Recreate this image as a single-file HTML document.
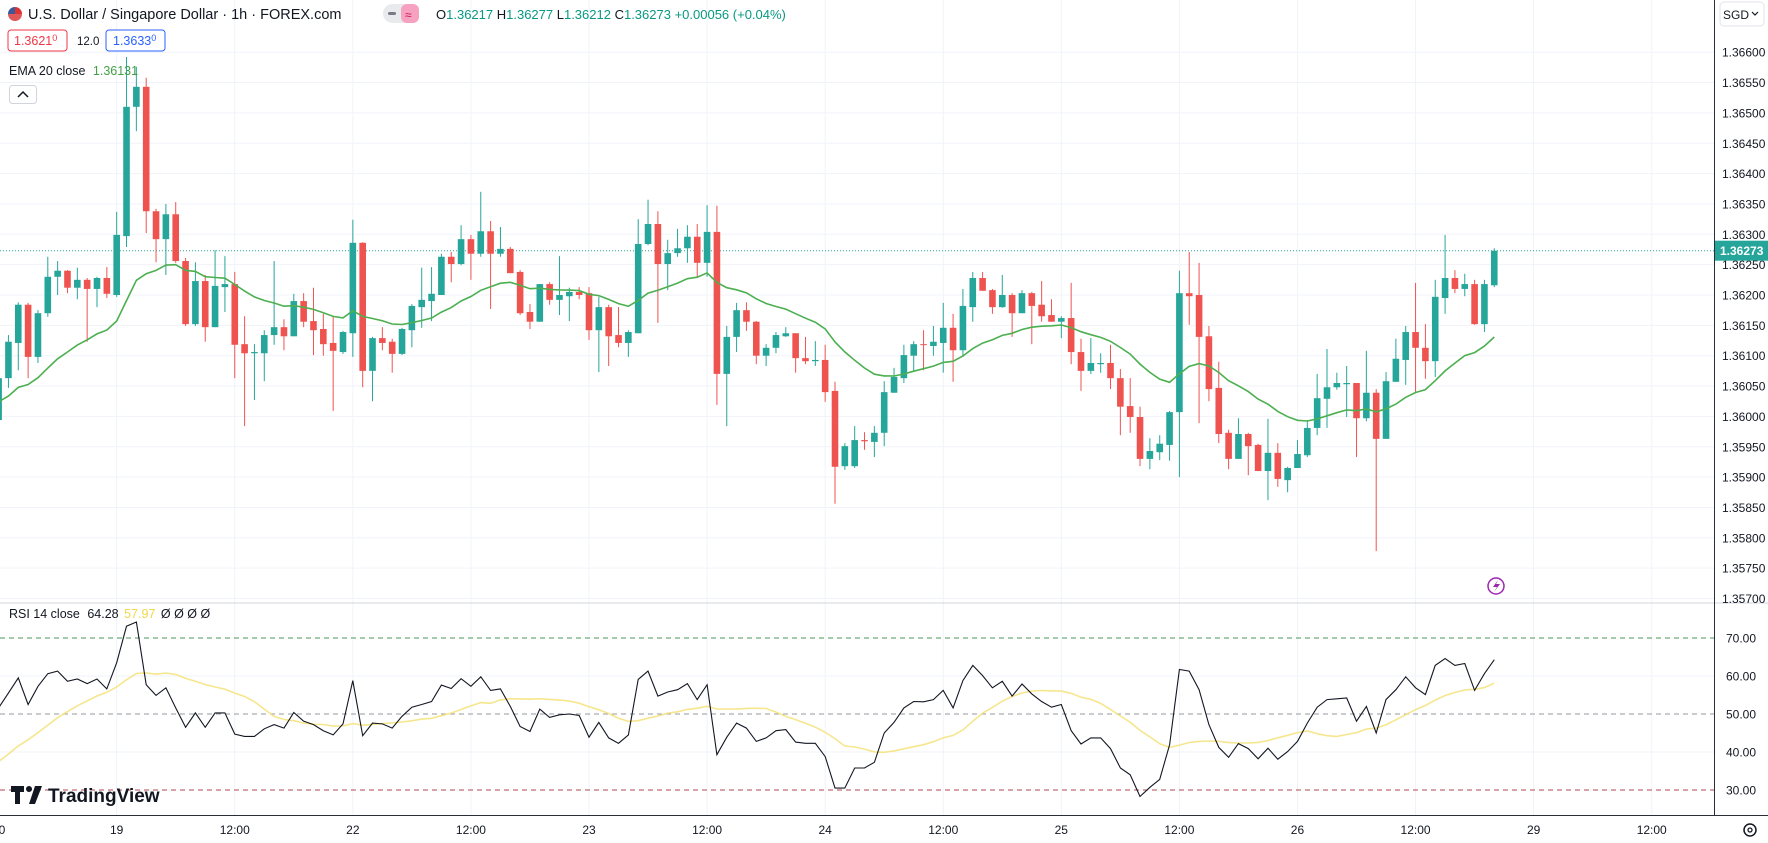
<!DOCTYPE html>
<html><head><meta charset="utf-8">
<style>
html,body{margin:0;padding:0;background:#fff;width:1768px;height:843px;overflow:hidden;font-family:"Liberation Sans",sans-serif;}
svg{display:block}
text{font-family:"Liberation Sans",sans-serif}
</style></head>
<body>
<svg id="chart" width="1768" height="843" viewBox="0 0 1768 843" xmlns="http://www.w3.org/2000/svg">
<defs>
<clipPath id="mainClip"><rect x="0" y="0" width="1714" height="602"/></clipPath>
<clipPath id="rsiClip"><rect x="0" y="604" width="1714" height="211"/></clipPath>
</defs>
<g id="grid"></g>
<g id="mainPane" clip-path="url(#mainClip)"></g>
<g id="rsiPane" clip-path="url(#rsiClip)"></g>
<line x1="0" y1="603" x2="1768" y2="603" stroke="#d1d4dc" stroke-width="1"/>
<line x1="1714.5" y1="0" x2="1714.5" y2="815" stroke="#2a2e39" stroke-width="1"/>
<line x1="0" y1="815.5" x2="1768" y2="815.5" stroke="#2a2e39" stroke-width="1"/>
<g id="priceAxis"></g>
<g id="rsiAxis"></g>
<g id="timeAxis"></g>

<g>
  <g>
    <circle cx="15" cy="14" r="7" fill="#e8eaf0"/>
    <path d="M8 14 A7 7 0 0 1 15 7 L15 14 Z" fill="#3c5a9a"/>
    <path d="M15 7 A7 7 0 0 1 22 14 L15 14 Z" fill="#d33"/>
    <path d="M8 14 A7 7 0 0 0 22 14 Z" fill="#d33" opacity="0.8"/>
  </g>
  <text x="28" y="19" font-size="14.5" fill="#131722">U.S. Dollar / Singapore Dollar · 1h · FOREX.com</text>
  <rect x="383" y="4" width="36" height="19" rx="9.5" fill="#e8eaed"/>
  <rect x="401" y="4" width="18" height="19" rx="6" fill="#f7a1c0"/>
  <rect x="388" y="12" width="8" height="3" rx="1.5" fill="#787b86"/>
  <text x="405" y="19" font-size="12" fill="#c2185b">≈</text>
  <text x="436" y="19" font-size="13" fill="#131722">O<tspan fill="#089981">1.36217</tspan> H<tspan fill="#089981">1.36277</tspan> L<tspan fill="#089981">1.36212</tspan> C<tspan fill="#089981">1.36273 +0.00056 (+0.04%)</tspan></text>
  <rect x="8" y="30" width="59" height="21" rx="3" fill="#fff" stroke="#f23645"/>
  <text x="14" y="45" font-size="12.5" fill="#f23645">1.3621<tspan font-size="9" dy="-4">0</tspan></text>
  <text x="77" y="45" font-size="11.5" fill="#131722">12.0</text>
  <rect x="106" y="30" width="59" height="21" rx="3" fill="#fff" stroke="#2962ff"/>
  <text x="113" y="45" font-size="12.5" fill="#2962ff">1.3633<tspan font-size="9" dy="-4">0</tspan></text>
  <text x="9" y="75" font-size="12.5" fill="#131722">EMA 20 close <tspan fill="#43a047" dx="4">1.36131</tspan></text>
  <rect x="9.5" y="85.5" width="27" height="18" rx="3" fill="#fff" stroke="#d1d4dc"/>
  <path d="M18 97 L23 92 L28 97" fill="none" stroke="#131722" stroke-width="1.5"/>
  <text x="9" y="618" font-size="12.5" fill="#131722">RSI 14 close <tspan dx="4">64.28</tspan> <tspan fill="#f0d84a" dx="2">57.97</tspan> <tspan fill="#131722" dx="2">Ø Ø Ø Ø</tspan></text>
  <g>
    <path d="M11 786 h13 v6 h-4 v12 h-5 v-12 h-4 z" fill="#131722"/>
    <circle cx="29" cy="789" r="3" fill="#131722"/>
    <path d="M35 786 h7 l-7 18 h-6 z" fill="#131722"/>
    <text x="48" y="802" font-size="19" font-weight="bold" fill="#131722">TradingView</text>
  </g>
  <g>
    <circle cx="1496" cy="586" r="8" fill="#fff" stroke="#9c27b0" stroke-width="1.5"/>
    <path d="M1498 580 L1493 587 L1497 587 L1494 592 L1500 584 L1496 584 Z" fill="#9c27b0"/>
  </g>
  <rect x="1720" y="2" width="44" height="24" rx="4" fill="#fff" stroke="#e0e3eb"/>
  <text x="1723" y="19" font-size="12" fill="#131722">SGD</text>
  <path d="M1752 12 l3 3 l3 -3" fill="none" stroke="#131722" stroke-width="1.2"/>
  <g>
    <circle cx="1750" cy="830" r="6" fill="none" stroke="#131722" stroke-width="1.5"/>
    <circle cx="1750" cy="830" r="2" fill="none" stroke="#131722" stroke-width="1.3"/>
  </g>
</g>
</svg>
<script>
const openP=[1.35994,1.36063,1.36121,1.36184,1.36098,1.36170,1.36230,1.36240,1.36212,1.36225,
1.36210,1.36228,1.36200,1.36297,1.36510,1.36543,1.36338,1.36292,1.36333,1.36256,
1.36152,1.36223,1.36147,1.36213,1.36218,1.36119,1.36104,1.36104,1.36134,1.36147,
1.36132,1.36190,1.36157,1.36144,1.36121,1.36106,1.36137,1.36286,1.36075,1.36129,
1.36123,1.36103,1.36142,1.36180,1.36190,1.36200,1.36263,1.36251,1.36292,1.36268,
1.36305,1.36268,1.36276,1.36238,1.36172,1.36156,1.36218,1.36192,1.36198,1.36205,
1.36203,1.36142,1.36180,1.36134,1.36121,1.36137,1.36284,1.36317,1.36251,1.36269,
1.36277,1.36296,1.36253,1.36304,1.36070,1.36131,1.36175,1.36156,1.36100,1.36113,
1.36132,1.36137,1.36096,1.36091,1.36093,1.36042,1.35918,1.35918,1.35961,1.35958,
1.35973,1.36039,1.36063,1.36100,1.36119,1.36116,1.36121,1.36146,1.36109,1.36180,
1.36228,1.36208,1.36180,1.36200,1.36170,1.36203,1.36184,1.36167,1.36156,1.36162,
1.36106,1.36075,1.36086,1.36088,1.36063,1.36017,1.35999,1.35930,1.35941,1.35953,
1.36007,1.36203,1.36200,1.36132,1.36047,1.35973,1.35930,1.35971,1.35953,1.35910,
1.35940,1.35895,1.35915,1.35936,1.35981,1.36029,1.36048,1.36053,1.36055,1.35997,
1.36039,1.35963,1.36057,1.36093,1.36139,1.36113,1.36091,1.36195,1.36228,1.36210,
1.36218,1.36152,1.36216];
const highP=[1.36068,1.36134,1.36188,1.36187,1.36175,1.36263,1.36256,1.36241,1.36245,1.36228,
1.36230,1.36246,1.36337,1.36592,1.36576,1.36558,1.36342,1.36350,1.36353,1.36261,
1.36254,1.36233,1.36274,1.36264,1.36238,1.36165,1.36119,1.36142,1.36256,1.36160,
1.36202,1.36203,1.36212,1.36169,1.36165,1.36141,1.36324,1.36287,1.36131,1.36147,
1.36128,1.36146,1.36185,1.36245,1.36246,1.36268,1.36271,1.36315,1.36299,1.36370,
1.36322,1.36312,1.36279,1.36241,1.36185,1.36218,1.36221,1.36264,1.36212,1.36213,
1.36213,1.36197,1.36184,1.36180,1.36142,1.36325,1.36357,1.36338,1.36291,1.36309,
1.36315,1.36317,1.36348,1.36347,1.36149,1.36187,1.36188,1.36157,1.36119,1.36139,
1.36147,1.36137,1.36131,1.36124,1.36118,1.36057,1.35956,1.35984,1.35974,1.35984,
1.36058,1.36080,1.36118,1.36124,1.36142,1.36149,1.36187,1.36169,1.36210,1.36238,
1.36238,1.36210,1.36233,1.36203,1.36208,1.36205,1.36223,1.36193,1.36165,1.36220,
1.36128,1.36129,1.36104,1.36118,1.36078,1.36063,1.36016,1.35964,1.35969,1.36009,
1.36240,1.36271,1.36253,1.36149,1.36090,1.35978,1.35997,1.35973,1.35955,1.35996,
1.35956,1.35917,1.35961,1.35994,1.36070,1.36111,1.36072,1.36083,1.36055,1.36108,
1.36045,1.36073,1.36128,1.36149,1.36220,1.36152,1.36225,1.36299,1.36241,1.36235,
1.36225,1.36225,1.36277];
const lowP=[1.35971,1.36047,1.36076,1.36063,1.36088,1.36164,1.36200,1.36203,1.36193,1.36123,
1.36180,1.36195,1.36197,1.36279,1.36470,1.36302,1.36254,1.36233,1.36253,1.36149,
1.36149,1.36123,1.36147,1.36172,1.36063,1.35984,1.36027,1.36058,1.36118,1.36109,
1.36132,1.36147,1.36101,1.36100,1.36009,1.36103,1.36098,1.36048,1.36025,1.36109,
1.36072,1.36101,1.36114,1.36146,1.36157,1.36200,1.36221,1.36249,1.36225,1.36263,
1.36177,1.36263,1.36236,1.36167,1.36144,1.36156,1.36184,1.36167,1.36157,1.36193,
1.36126,1.36073,1.36083,1.36114,1.36098,1.36137,1.36282,1.36154,1.36208,1.36263,
1.36253,1.36228,1.36230,1.36019,1.35984,1.36106,1.36141,1.36086,1.36083,1.36104,
1.36131,1.36072,1.36086,1.36083,1.36024,1.35856,1.35912,1.35915,1.35945,1.35933,
1.35951,1.36039,1.36055,1.36073,1.36076,1.36100,1.36072,1.36057,1.36098,1.36156,
1.36207,1.36169,1.36179,1.36131,1.36170,1.36119,1.36156,1.36156,1.36129,1.36086,
1.36042,1.36070,1.36072,1.36045,1.35969,1.35973,1.35918,1.35913,1.35928,1.35927,
1.35900,1.36151,1.35989,1.36025,1.35956,1.35913,1.35930,1.35903,1.35910,1.35862,
1.35884,1.35875,1.35915,1.35933,1.35969,1.35981,1.36044,1.35999,1.35933,1.35992,
1.35778,1.35963,1.36057,1.36052,1.36040,1.36062,1.36065,1.36169,1.36203,1.36198,
1.36151,1.36139,1.36213];
const closeP=[1.36063,1.36123,1.36184,1.36098,1.36170,1.36230,1.36240,1.36212,1.36225,1.36210,
1.36228,1.36202,1.36299,1.36510,1.36543,1.36338,1.36292,1.36333,1.36256,1.36152,
1.36223,1.36147,1.36215,1.36218,1.36118,1.36104,1.36106,1.36134,1.36147,1.36132,
1.36190,1.36156,1.36142,1.36119,1.36108,1.36139,1.36286,1.36075,1.36129,1.36121,
1.36103,1.36144,1.36182,1.36192,1.36202,1.36263,1.36251,1.36292,1.36268,1.36305,
1.36268,1.36276,1.36236,1.36170,1.36156,1.36218,1.36192,1.36200,1.36205,1.36200,
1.36142,1.36180,1.36132,1.36121,1.36139,1.36284,1.36317,1.36251,1.36269,1.36277,
1.36296,1.36253,1.36304,1.36070,1.36131,1.36175,1.36156,1.36100,1.36113,1.36134,
1.36137,1.36096,1.36091,1.36093,1.36040,1.35917,1.35951,1.35961,1.35959,1.35973,
1.36040,1.36065,1.36101,1.36119,1.36118,1.36123,1.36146,1.36109,1.36182,1.36228,
1.36207,1.36180,1.36200,1.36170,1.36203,1.36182,1.36165,1.36156,1.36162,1.36106,
1.36075,1.36088,1.36088,1.36063,1.36016,1.35999,1.35930,1.35943,1.35955,1.36007,
1.36203,1.36198,1.36131,1.36045,1.35971,1.35930,1.35971,1.35951,1.35910,1.35940,
1.35897,1.35915,1.35938,1.35981,1.36030,1.36048,1.36055,1.36055,1.35997,1.36039,
1.35963,1.36058,1.36095,1.36139,1.36113,1.36091,1.36197,1.36228,1.36210,1.36218,
1.36152,1.36218,1.36273];
const emaSeed=[1.36020];
const rsiValues=[51.6,55.5,59.5,52.5,57.3,60.6,61.3,58.6,59.2,58,
59.2,56.6,63.5,73.1,74.2,57.7,54.9,56.9,51.6,46.5,
50.3,46.5,50.3,50.3,44.7,44.1,44.1,46.1,47.2,46.3,
50.4,48.1,47.2,45.6,44.5,47.4,58.8,44.3,47.6,47.4,
46.3,49.4,51.8,52.5,53.3,57.6,56.7,59.3,57.3,59.8,
56.2,56.6,52,46.7,45.4,51.3,49.1,49.8,50,49.6,
43.9,47.8,43.7,42.3,44.5,59.1,61.3,54.7,55.8,56.4,
58,53.8,57.7,39.3,43.9,47.6,46.3,42.8,43.7,45.6,
45.9,42.6,42.3,42.3,38.8,30.5,30.5,35.8,35.8,37.3,
45,47.8,51.6,53.3,53.2,53.8,56.2,51.6,58.8,62.8,
60.1,56.9,58.6,54.7,57.9,55.3,53.3,51.8,52.5,45.6,
42.1,43.7,43.7,40.9,35.8,34,28.3,30.7,32.8,41.9,
61.7,61.3,56.4,47.2,41.2,38.6,42.2,40.9,38.2,41,
38.1,40.1,42.8,47.6,51.8,53.8,54,54.2,48.1,52,
45,53.8,56.4,59.8,56.9,55.1,62.8,64.6,62.8,63.3,
56.2,60.6,64.28];
const rsiPrior=[28,29,30,31,33,34,36,38,40,41,43,44,46];
const priceTicks=[1.366,1.3655,1.365,1.3645,1.364,1.3635,1.363,1.3625,1.362,1.3615,1.361,1.3605,1.36,1.3595,1.359,1.3585,1.358,1.3575,1.357];
const rsiTicks=[70,60,50,40,30];
const timeLabels=["00","19","12:00","22","12:00","23","12:00","24","12:00","25","12:00","26","12:00","29","12:00"];
const lastPrice=[1.36273];

const NS="http://www.w3.org/2000/svg";
const UP="#26a69a", DOWN="#ef5350";
function xIdx(i){return -1.4+9.84*i;}
function yPrice(p){return 52.2+(1.366-p)/0.0005*30.35;}
function yRsi(v){return 714-(v-50)*3.8;}
function mk(tag,attrs,parent){const e=document.createElementNS(NS,tag);for(const k in attrs)e.setAttribute(k,attrs[k]);parent.appendChild(e);return e;}

const grid=document.getElementById('grid');
const main=document.getElementById('mainPane');
const rsiG=document.getElementById('rsiPane');
const pAx=document.getElementById('priceAxis');
const rAx=document.getElementById('rsiAxis');
const tAx=document.getElementById('timeAxis');

timeLabels.forEach((t,k)=>{
  const x=xIdx(12*k);
  const l=mk('line',{x1:x,y1:0,x2:x,y2:815,stroke:'#f0f3fa','stroke-width':1},grid);
  
  
  const tx=mk('text',{x:x,y:834,'font-size':12,fill:'#131722','text-anchor':'middle'},tAx);
  tx.textContent=t;
  
  
});
priceTicks.forEach(p=>{
  const y=yPrice(p);
  if(y<602){
    const l=mk('line',{x1:0,y1:y,x2:1714,y2:y,stroke:'#f0f3fa','stroke-width':1},grid);
    
    
  }
  if(Math.abs(y-yPrice(lastPrice[0]))>10 && y<606){
    const tx=mk('text',{x:1722,y:y+4.5,'font-size':12,fill:'#131722'},pAx);
    tx.textContent=p.toFixed(5);
    
    
  }
});
[60,40].forEach(v=>{
  const l=mk('line',{x1:0,y1:yRsi(v),x2:1714,y2:yRsi(v),stroke:'#f0f3fa','stroke-width':1},grid);
  
  
});
[[70,'#4a9a5a'],[50,'#9598a1'],[30,'#b2494f']].forEach(([v,c])=>{
  const l=mk('line',{x1:0,y1:yRsi(v),x2:1714,y2:yRsi(v),stroke:c,'stroke-width':1,'stroke-dasharray':'5,4'},rsiG);
  
  
});
rsiTicks.forEach(v=>{
  const tx=mk('text',{x:1726,y:yRsi(v)+4.5,'font-size':12,fill:'#131722'},rAx);
  tx.textContent=v.toFixed(2);
  
  
});

const ly=yPrice(lastPrice[0]);
const dl=mk('line',{x1:0,y1:ly,x2:1714,y2:ly,stroke:'#26a69a','stroke-width':1,'stroke-dasharray':'1,2'},main);



for(let i=0;i<closeP.length;i++){
  const x=xIdx(i);
  const up=closeP[i]>=openP[i];
  const c=up?UP:DOWN;
  const g=mk('g',{},main);
  
  
  mk('line',{x1:x,y1:yPrice(highP[i]),x2:x,y2:yPrice(lowP[i]),stroke:c,'stroke-width':1},g);
  const yt=yPrice(Math.max(openP[i],closeP[i])), yb=yPrice(Math.min(openP[i],closeP[i]));
  mk('rect',{x:x-3.3,y:yt,width:6.6,height:Math.max(1,yb-yt),fill:c},g);
}
let ema=emaSeed[0];const k=2/21;const pts=[];
for(let i=0;i<closeP.length;i++){ema=ema+(closeP[i]-ema)*k;pts.push(xIdx(i).toFixed(1)+','+yPrice(ema).toFixed(1));}
const emaL=mk('polyline',{points:pts.join(' '),fill:'none',stroke:'#4caf50','stroke-width':1.6},main);



const all=rsiPrior.concat(rsiValues);const maPts=[];
for(let i=0;i<rsiValues.length;i++){
  let s=0;for(let j=0;j<14;j++)s+=all[i+rsiPrior.length-j];
  maPts.push(xIdx(i).toFixed(1)+','+yRsi(s/14).toFixed(1));
}
const maL=mk('polyline',{points:maPts.join(' '),fill:'none',stroke:'#f5e27a','stroke-width':1.6,opacity:0.85},rsiG);


const rPts=rsiValues.map((v,i)=>xIdx(i).toFixed(1)+','+yRsi(v).toFixed(1));
const rL=mk('polyline',{points:rPts.join(' '),fill:'none',stroke:'#131722','stroke-width':1.1},rsiG);



const lb=mk('rect',{x:1715,y:ly-10,width:53,height:20,fill:'#26a69a'},pAx);


const lt=mk('text',{x:1720,y:ly+4.5,'font-size':12,'font-weight':'bold',fill:'#fff'},pAx);
lt.textContent=lastPrice[0].toFixed(5);


</script>
</body></html>
